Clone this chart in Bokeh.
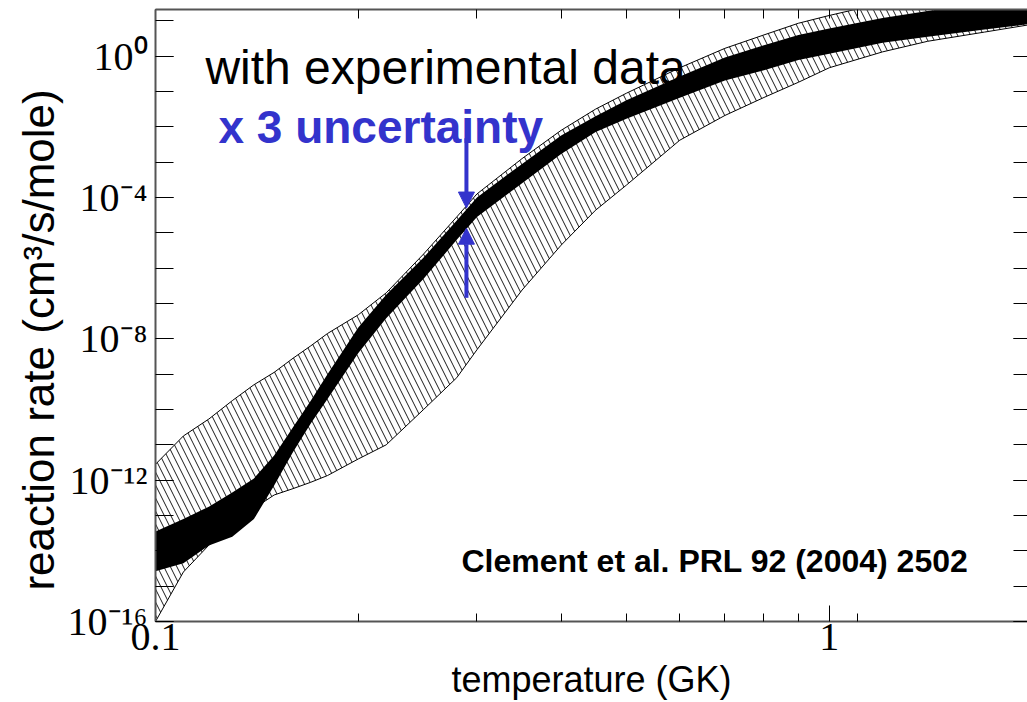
from bokeh.plotting import figure
from bokeh.models import FixedTicker, LogAxis, Label, Arrow, NormalHead, ColumnDataSource, Range1d
from bokeh.embed import file_html
from bokeh.resources import INLINE

# ---------------- data ----------------
temperature_gk = [0.10, 0.11, 0.12, 0.13, 0.14, 0.15, 0.16, 0.17, 0.18, 0.20, 0.22, 0.25,
                  0.28, 0.30, 0.35, 0.40, 0.45, 0.50, 0.60, 0.70, 0.80, 0.90, 1.0, 1.2,
                  1.4, 1.7, 2.0]
# theory band (hatched), log10 of rate
theory_hi_exp = [-11.55, -10.75, -10.27, -9.75, -9.3, -8.95, -8.55, -8.2, -7.85, -7.32, -6.7, -5.6,
                 -4.55, -3.9, -2.9, -2.1, -1.5, -1.05, -0.33, 0.22, 0.6, 0.93, 1.15, 1.5,
                 1.75, 2.0, 2.2]
theory_lo_exp = [-16.0, -14.6, -13.84, -13.3, -12.8, -12.42, -12.24, -12.06, -11.87, -11.4, -11.0, -10.0,
                 -9.1, -8.31, -6.62, -5.35, -4.36, -3.65, -2.38, -1.68, -1.17, -0.74, -0.33, 0.12,
                 0.42, 0.68, 0.9]
# band with experimental data (black), log10 of rate
exp_hi_exp = [-13.45, -13.1, -12.75, -12.35, -11.95, -11.3, -10.5, -9.75, -9.0, -7.68, -6.75, -5.7,
              -4.65, -4.0, -3.05, -2.25, -1.7, -1.25, -0.58, -0.04, 0.31, 0.6, 0.78, 1.08,
              1.28, 1.5, 1.65]
exp_lo_exp = [-14.58, -14.35, -13.85, -13.6, -13.1, -12.15, -11.2, -10.4, -9.7, -8.4, -7.42, -6.3,
              -5.2, -4.55, -3.6, -2.77, -2.15, -1.77, -1.18, -0.69, -0.4, -0.11, 0.07, 0.38,
              0.55, 0.75, 0.92]

x_major_ticks = [0.1, 1.0]
x_minor_ticks = [0.2, 0.3, 0.4, 0.5, 0.6, 0.7, 0.8, 0.9, 1.1]
x_tick_labels = ["0.1", "1"]
y_tick_exponents = list(range(-16, 2))
y_label_exponents = [0, -4, -8, -12, -16]
y_tick_labels = ["10\u2070", "10\u207b\u2074", "10\u207b\u2078", "10\u207b\u00b9\u00b2", "10\u207b\u00b9\u2076"]

x_title = "temperature (GK)"
y_title = "reaction rate (cm\u00b3/s/mole)"

BLUE = "#3333CC"
AXIS_GRAY = "#555555"

src = ColumnDataSource(dict(
    T=temperature_gk,
    th=[10.0 ** e for e in theory_hi_exp],
    tl=[10.0 ** e for e in theory_lo_exp],
    eh=[10.0 ** e for e in exp_hi_exp],
    el=[10.0 ** e for e in exp_lo_exp],
))

p = figure(width=1027, height=702, x_axis_type="log", y_axis_type="log",
           x_range=Range1d(0.1, 1.969), y_range=Range1d(1e-16, 10 ** 1.319),
           output_backend="svg", toolbar_location=None,
           min_border_left=155, min_border_right=0, min_border_top=9, min_border_bottom=80,
           background_fill_color="white", border_fill_color="white")
p.outline_line_color = None
p.xgrid.visible = False
p.ygrid.visible = False

# theory band, hatched
p.varea(x="T", y1="tl", y2="th", source=src, fill_color="white", fill_alpha=0.0,
        hatch_pattern="\\", hatch_color="black", hatch_scale=13, hatch_weight=0.9)
p.line(x="T", y="th", source=src, line_color="black", line_width=1)
p.line(x="T", y="tl", source=src, line_color="black", line_width=1)
# experimental band, solid black
p.varea(x="T", y1="el", y2="eh", source=src, fill_color="black")

# ---------------- axes ----------------
def style_axis(ax, tick_in, minor_in):
    ax.axis_line_color = AXIS_GRAY
    ax.axis_line_width = 2
    ax.major_tick_in = tick_in
    ax.major_tick_out = 0
    ax.minor_tick_in = minor_in
    ax.minor_tick_out = 0
    ax.major_tick_line_color = "black"
    ax.minor_tick_line_color = "black"
    ax.major_tick_line_width = 1
    ax.minor_tick_line_width = 1

def hide_labels(ax):
    ax.major_label_text_font_size = "1px"
    ax.major_label_text_alpha = 0.0
    ax.major_label_standoff = 0

xb = p.xaxis[0]
xb.ticker = FixedTicker(ticks=x_major_ticks, minor_ticks=x_minor_ticks)
style_axis(xb, 16, 8)
xb.major_label_overrides = {v: s for v, s in zip(x_major_ticks, x_tick_labels)}
xb.major_label_text_font = "Liberation Serif"
xb.major_label_text_font_size = "40px"
xb.major_label_text_color = "black"
xb.major_label_standoff = 2
xb.axis_label = x_title
xb.axis_label_text_font = "Liberation Sans"
xb.axis_label_text_font_style = "normal"
xb.axis_label_text_font_size = "36px"
xb.axis_label_text_color = "black"
xb.axis_label_standoff = 6

yl = p.yaxis[0]
yl.ticker = FixedTicker(ticks=[10.0 ** e for e in y_label_exponents],
                        minor_ticks=[10.0 ** e for e in y_tick_exponents])
style_axis(yl, 18, 18)
yl.major_label_overrides = {10.0 ** e: s for e, s in zip(y_label_exponents, y_tick_labels)}
yl.major_label_text_font = "Liberation Serif"
yl.major_label_text_font_size = "40px"
yl.major_label_text_color = "black"
yl.major_label_standoff = 8
# trailing no-break spaces shift the centred title down, as in the original
yl.axis_label = y_title + "\u00a0" * 4
yl.axis_label_text_font = "Liberation Sans"
yl.axis_label_text_font_style = "normal"
yl.axis_label_text_font_size = "44px"
yl.axis_label_text_color = "black"
yl.axis_label_standoff = 2

xtop = LogAxis(ticker=FixedTicker(ticks=x_major_ticks, minor_ticks=x_minor_ticks))
style_axis(xtop, 9, 9)
hide_labels(xtop)
p.add_layout(xtop, "above")

yr = LogAxis(ticker=FixedTicker(ticks=[10.0 ** e for e in y_label_exponents],
                                minor_ticks=[10.0 ** e for e in y_tick_exponents]))
style_axis(yr, 14, 14)
yr.axis_line_color = None
hide_labels(yr)
p.add_layout(yr, "right")

# ---------------- annotations ----------------
p.add_layout(Label(x=0.1186, y=10 ** -0.319, text="with experimental data", text_align="left",
                   text_baseline="alphabetic", text_font="Liberation Sans",
                   text_font_size="48px", text_color="black"))
p.add_layout(Label(x=0.124, y=10 ** -2.014, text="x 3 uncertainty", text_align="left",
                   text_baseline="alphabetic", text_font="Liberation Sans", text_font_style="bold",
                   text_font_size="46px", text_color=BLUE))
p.add_layout(Label(x=0.2845, y=10 ** -14.3, text="Clement et al. PRL 92 (2004) 2502", text_align="left",
                   text_baseline="alphabetic", text_font="Liberation Sans", text_font_style="bold",
                   text_font_size="32px", text_color="black"))

arrow_x = 0.2894
p.add_layout(Arrow(end=NormalHead(size=16, fill_color=BLUE, line_color=BLUE),
                   x_start=arrow_x, y_start=10 ** -2.325, x_end=arrow_x, y_end=10 ** -4.30,
                   line_color=BLUE, line_width=4))
p.add_layout(Arrow(end=NormalHead(size=16, fill_color=BLUE, line_color=BLUE),
                   x_start=arrow_x, y_start=10 ** -6.84, x_end=arrow_x, y_end=10 ** -4.87,
                   line_color=BLUE, line_width=4))

open("out.html", "w").write(file_html(p, INLINE))
